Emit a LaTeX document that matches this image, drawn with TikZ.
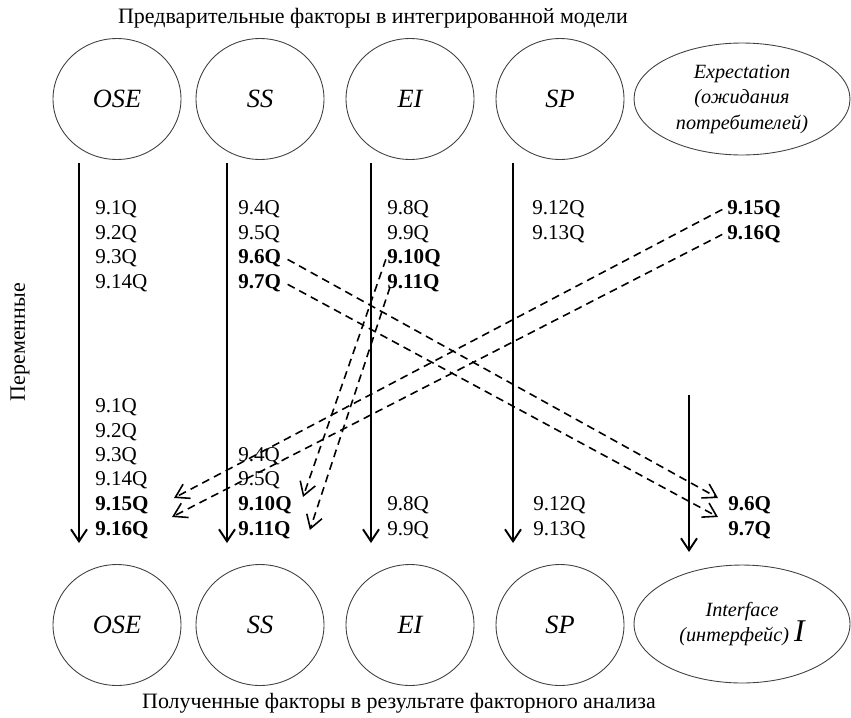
\documentclass[tikz,border=0pt]{standalone}
\usepackage{fontspec}
\setmainfont{Liberation Serif}
\usetikzlibrary{arrows.meta,shapes.geometric,calc}

\begin{document}
\begin{tikzpicture}[x=0.02cm,y=-0.02cm,
  factor/.style={ellipse,draw=black!75,line width=0.5pt,minimum width=2.56cm,minimum height=2.42cm,inner sep=0pt,font=\fontsize{15}{18}\selectfont\itshape},
  wide/.style={ellipse,draw=black!75,line width=0.5pt,minimum width=4.32cm,minimum height=2.24cm,inner sep=0pt,align=center,font=\fontsize{11.5}{14.5}\selectfont\itshape},
  item/.style={anchor=west,inner sep=0pt,text height=8pt,text depth=0pt,font=\fontsize{12}{14}\selectfont},
  key/.style={item,font=\fontsize{12}{14}\selectfont\bfseries},
  flow/.style={line width=1.1pt,-{Straight Barb[length=2.4mm,width=3.2mm]}},
  link/.style={line width=0.9pt,dash pattern=on 4.5pt off 3pt,-{Straight Barb[length=2.6mm,width=3.2mm]}},
  caption/.style={font=\fontsize{12.5}{15}\selectfont}
]
\useasboundingbox (0,0) rectangle (851,717);

\node[caption] (head) at (373,18) {Предварительные факторы в интегрированной модели};
\node[caption] (foot) at (399,703) {Полученные факторы в результате факторного анализа};
\node[caption,rotate=90] (vars) at (20,342) {Переменные};

% factors before and after
\foreach \n/\x/\t in {ose/117/OSE,ss/260/SS,ei/410/EI,sp/560/SP}{
  \node[factor] (\n) at (\x,99) {\t};
  \node[factor] (b\n) at (\x,625) {\t};}
\node[wide] (exp) at (742,99) {Expectation\\(ожидания\\потребителей)};
\node[wide,minimum height=2.36cm] (bint) at (742,624) {Interface\\(интерфейс) {\fontsize{18}{18}\selectfont I}};

% variables
\foreach \n/\x/\y/\t in {o1/95/207/9.1Q,o2/95/232/9.2Q,o3/95/256/9.3Q,o14/95/281/9.14Q,
  s4/238/207/9.4Q,s5/238/232/9.5Q,e8/387/207/9.8Q,e9/387/232/9.9Q,p12/532/207/9.12Q,p13/532/232/9.13Q,
  bo1/95/405/9.1Q,bo2/95/430/9.2Q,bo3/95/454/9.3Q,bo14/95/478/9.14Q,bs4/238/454/9.4Q,bs5/238/478/9.5Q,
  be8/387/503/9.8Q,be9/387/528/9.9Q,bp12/533/503/9.12Q,bp13/533/528/9.13Q}
  {\node[item] (\n) at (\x,\y) {\t};}
\foreach \n/\x/\y/\t in {s6/238/256/9.6Q,s7/238/281/9.7Q,e10/387/256/9.10Q,e11/387/281/9.11Q,
  x15/727/207/9.15Q,x16/727/232/9.16Q,bo15/95/503/9.15Q,bo16/95/528/9.16Q,
  bs10/238/503/9.10Q,bs11/238/528/9.11Q,bi6/728/503/9.6Q,bi7/728/528/9.7Q}
  {\node[key] (\n) at (\x,\y) {\t};}

\foreach \n/\x in {ose/79,ss/227,ei/371,sp/513}{
  \coordinate (\n-in) at (\x,163);
  \coordinate (\n-out) at (\x,543);
  \draw[flow] (\n-in) -- (\n-out);}
\coordinate (int-in) at (689,395);
\coordinate (int-out) at (689,552);
\draw[flow] (int-in) -- (int-out);

% moved variables
\draw[link,shorten <=4pt] (s6.east) -- ([xshift=-0.2cm,yshift=0.1cm]bi6.west);
\draw[link,shorten <=4pt] (s7.east) -- ([xshift=-0.2cm,yshift=0.22cm]bi7.west);
\draw[link,shorten <=3pt] (x15.west) -- ([xshift=0.5cm,yshift=0.1cm]bo15.east);
\draw[link,shorten <=3pt] (x16.west) -- ([xshift=0.46cm,yshift=0.22cm]bo16.east);
\draw[link,shorten <=2pt] (e10.west) -- ([xshift=0.22cm,yshift=0.12cm]bs10.east);
\draw[link] ([xshift=0.06cm,yshift=-0.12cm]e11.west) -- ([xshift=0.38cm,yshift=-0.04cm]bs11.east);
\end{tikzpicture}
\end{document}
